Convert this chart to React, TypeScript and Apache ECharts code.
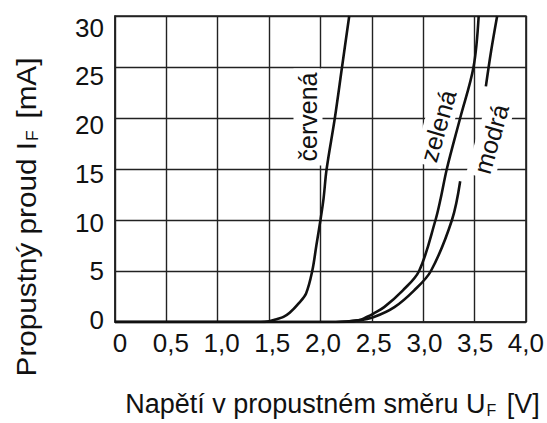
import { useEffect, useRef } from 'react';
import * as echarts from 'echarts';

// Forward voltage U_F [V] vs forward current I_F [mA] of three LEDs
const voltageTicks = [0, 0.5, 1, 1.5, 2, 2.5, 3, 3.5, 4];
const currentTicks = [0, 5, 10, 15, 20, 25, 30];

const cervena: [number, number][] = [
  [0, 0], [1.0, 0], [1.42, 0], [1.5, 0.08], [1.58, 0.3], [1.64, 0.5], [1.7, 0.9],
  [1.79, 1.85], [1.86, 2.8], [1.92, 5], [1.96, 7.5], [2.0, 10], [2.03, 12.1],
  [2.06, 15], [2.14, 20], [2.21, 25], [2.28, 30],
];

const zelena: [number, number][] = [
  [0, 0], [1.5, 0], [2.15, 0], [2.37, 0.16], [2.45, 0.49], [2.52, 0.85], [2.62, 1.46],
  [2.8, 3.08], [2.96, 5], [3.12, 10], [3.17, 12.1], [3.23, 15], [3.36, 20],
  [3.49, 25], [3.54, 30],
];

const modraLower: [number, number][] = [
  [0, 0], [1.5, 0], [2.15, 0], [2.37, 0.16], [2.52, 0.49], [2.72, 1.46],
  [2.91, 3.08], [3.075, 5], [3.28, 10], [3.36, 13.8],
];

const modraUpper: [number, number][] = [
  [3.61, 23.1], [3.66, 26.5], [3.72, 30],
];

const curveNames = ['červená', 'zelená', 'modrá'];

const FONT = '"Liberation Sans", Arial, Helvetica, sans-serif';
const INK = '#111';

function fmtVolt(v: number) {
  return v === 0 ? '0' : v.toFixed(1).replace('.', ',');
}

export default function App() {
  const ref = useRef<HTMLDivElement>(null);

  useEffect(() => {
    if (!ref.current) return;
    const chart = echarts.init(ref.current, null, { renderer: 'svg' });

    const lineSeries = (data: [number, number][]) => ({
      type: 'line',
      data,
      smooth: 0.35,
      symbol: 'none',
      xAxisIndex: 0,
      yAxisIndex: 0,
      lineStyle: { color: INK, width: 2.6 },
      z: 5,
    });

    // curve captions sit on a white patch that hides the grid behind them
    const labelText = (text: string, x: number, y: number, deg: number) => ({
      type: 'text',
      x,
      y,
      rotation: (deg * Math.PI) / 180,
      z: 2,
      style: {
        text,
        font: `25px ${FONT}`,
        fill: INK,
        align: 'center',
        verticalAlign: 'middle',
        backgroundColor: '#fff',
        padding: [2, 4, 2, 4],
      },
    });

    chart.setOption({
      animation: false,
      backgroundColor: '#fff',
      textStyle: { fontFamily: FONT, color: INK },
      grid: {
        left: 115,
        top: 16,
        width: 411,
        height: 309,
        show: true,
        borderColor: '#222',
        borderWidth: 1.5,
        backgroundColor: 'transparent',
      },
      xAxis: [
        {
          type: 'value',
          min: 0,
          max: 4,
          interval: 0.5,
          axisLine: { show: true, lineStyle: { color: '#222', width: 1.5 } },
          axisTick: { show: false },
          axisLabel: { show: false },
          splitLine: { show: true, lineStyle: { color: '#222', width: 1.4 } },
          name: '{m|Napětí v propustném směru U}{s|F}{m| [V]}',
          nameLocation: 'middle',
          nameGap: 67,
          nameTextStyle: {
            padding: [0, 0, 0, 24],
            rich: {
              m: { fontSize: 27, fontFamily: FONT, color: INK },
              s: { fontSize: 16, fontFamily: FONT, color: INK, padding: [13, 3, 0, 1] },
            },
          },
        },
        {
          type: 'value',
          position: 'bottom',
          min: -0.05,
          max: 4,
          axisLine: { show: false },
          axisTick: { show: false },
          splitLine: { show: false },
          axisLabel: {
            customValues: voltageTicks,
            formatter: fmtVolt,
            fontSize: 26,
            fontFamily: FONT,
            color: INK,
            margin: 8,
          },
        },
      ],
      yAxis: [
        {
          type: 'value',
          min: 0,
          max: 30,
          interval: 5,
          axisLine: { show: true, lineStyle: { color: '#222', width: 1.5 } },
          axisTick: { show: false },
          axisLabel: { show: false },
          splitLine: { show: true, lineStyle: { color: '#222', width: 1.4 } },
        },
        {
          type: 'value',
          position: 'left',
          min: -0.2,
          max: 31.2,
          axisLine: { show: false },
          axisTick: { show: false },
          splitLine: { show: false },
          axisLabel: {
            customValues: currentTicks,
            fontSize: 26,
            fontFamily: FONT,
            color: INK,
            margin: 11,
          },
        },
      ],
      series: [
        lineSeries(cervena),
        lineSeries(zelena),
        lineSeries(modraLower),
        lineSeries(modraUpper),
      ],
      graphic: [
        labelText(curveNames[0], 308, 117, 90),
        labelText(curveNames[1], 438, 126, 74),
        labelText(curveNames[2], 491, 139, 74),
        {
          // vertical axis title, set in a slightly stretched face
          type: 'text',
          x: 26,
          y: 217,
          rotation: Math.PI / 2,
          scaleX: 1.1,
          style: {
            text: '{m|Propustný proud I}{s|F}{m| [mA]}',
            align: 'center',
            verticalAlign: 'middle',
            fill: INK,
            rich: {
              m: { fontSize: 27, fontFamily: FONT, fill: INK },
              s: { fontSize: 16, fontFamily: FONT, fill: INK, padding: [13, 3, 0, 1] },
            },
          },
        },
      ],
    });

    return () => chart.dispose();
  }, []);

  return (
    <div
      ref={ref}
      style={{ position: 'absolute', left: 0, top: 0, width: 547, height: 423 }}
    />
  );
}
